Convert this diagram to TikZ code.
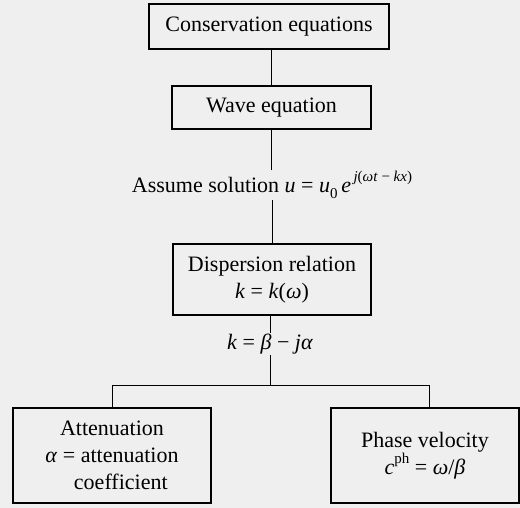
\documentclass[tikz,border=0pt]{standalone}
\usepackage{fontspec}
\setmainfont{Liberation Serif}
\definecolor{bg}{HTML}{EFEFEF}
\begin{document}
\begin{tikzpicture}[x=1pt,y=-1pt,
  box/.style={draw, line width=1.3pt, inner sep=0pt, align=center,
    font=\fontsize{22}{27}\selectfont},
  lbl/.style={inner sep=0pt, align=center, font=\fontsize{22}{27}\selectfont},
  conn/.style={line width=0.9pt}]
\fill[bg] (0,0) rectangle (520,508);
\useasboundingbox (0,0) rectangle (520,508);
\node[box, minimum width=240pt, minimum height=45pt] (cons) at (269,26.5) {Conservation equations};
\node[box, minimum width=199pt, minimum height=43pt] (wave) at (271.5,107.5) {Wave equation};
\node[lbl, minimum height=30pt] (assume) at (272,185)
  {Assume solution \textit{u} = \textit{u}\raisebox{-0.25em}{\fontsize{15}{15}\selectfont 0}\,\textit{e}\raisebox{0.5em}{\fontsize{15}{15}\selectfont\itshape\,j}\raisebox{0.5em}{\fontsize{15}{15}\selectfont (\textit{ωt} − \textit{kx})}};
\node[box, minimum width=198pt, minimum height=71pt] (disp) at (272,279.5)
  {Dispersion relation\\ \textit{k} = \textit{k}(\textit{ω})};
\node[lbl, minimum height=22pt] (krel) at (270,344) {\textit{k} = \textit{β} − \textit{jα}};
\coordinate (junc) at (270,385);
\coordinate (jl) at (112,385);
\coordinate (jr) at (429,385);
\node[box, minimum width=198pt, minimum height=95pt] (att) at (112,455.5)
  {Attenuation\\ \textit{α} = attenuation\\ \hspace*{0.8em}coefficient};
\node[box, minimum width=188pt, minimum height=95pt] (phase) at (425,455.5)
  {Phase velocity\\ \textit{c}\raisebox{0.5em}{\fontsize{15}{15}\selectfont ph} = \textit{ω}/\textit{β}};
\draw[conn] (cons.south -| wave.north) -- (wave.north);
\draw[conn] (wave.south) -- (wave.south |- assume.north);
\draw[conn] (assume.south -| disp.north) -- (disp.north);
\draw[conn] (disp.south -| krel.north) -- (krel.north);
\draw[conn] (krel.south) -- (junc);
\draw[conn] (jl) -- (jr);
\draw[conn] (jl) -- (att.north);
\draw[conn] (jr) -- (jr |- phase.north);
\end{tikzpicture}
\end{document}
